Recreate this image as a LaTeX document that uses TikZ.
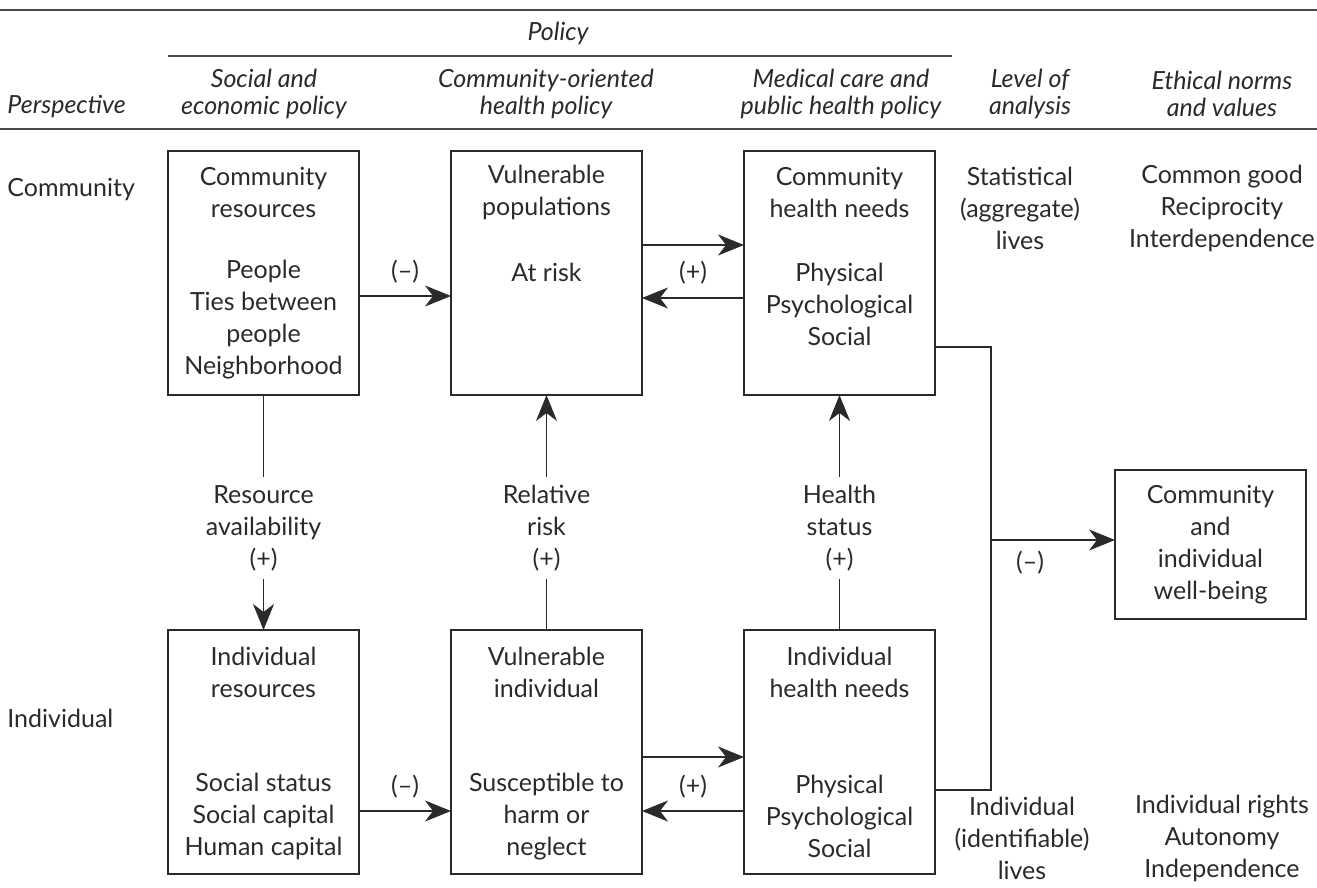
\documentclass[tikz,border=0pt]{standalone}
\usepackage{fontspec}
\setmainfont{Lato}
\usetikzlibrary{arrows.meta,calc}
\definecolor{ink}{HTML}{2A2A2A}
\tikzset{
  lbl/.style={align=center,inner sep=0pt,text=ink,font=\fontsize{12.5}{16}\selectfont},
  hdr/.style={lbl,font=\fontsize{12.5}{13.5}\selectfont\itshape},
  box/.style={draw=ink,line width=0.65pt,minimum width=95.5pt,minimum height=122pt,inner sep=0pt,outer sep=0pt},
  vlab/.style={lbl,inner ysep=4pt},
  conn/.style={draw=ink,line width=0.6pt},
  arr/.style={conn,-{Stealth[length=13pt,width=10.5pt,inset=4pt]}},
  rule/.style={draw=ink!85,line width=0.8pt}
}
\begin{document}
\begin{tikzpicture}[x=0.5pt,y=-0.5pt]
\useasboundingbox (0,0) rectangle (1317,888);
% header rules
\coordinate (tl) at (0,10); \coordinate (tr) at (1317,10);
\coordinate (bl) at (0,129); \coordinate (br) at (1317,129);
\coordinate (pl) at (168,56); \coordinate (pr) at (952,56);
\draw[rule] (tl) -- (tr);
\draw[rule] (bl) -- (br);
\draw[rule] (pl) -- (pr);
\node[hdr] (hpol) at (558,33) {Policy};
\node[hdr,anchor=west] (hper) at (7,107) {Perspective};
\node[hdr] (hsoc) at (264,93.5) {Social and\\economic policy};
\node[hdr] (hcom) at (546,93.5) {Community-oriented\\health policy};
\node[hdr] (hmed) at (841,93.5) {Medical care and\\public health policy};
\node[hdr] (hlev) at (1030,93.5) {Level of\\analysis};
\node[hdr] (heth) at (1222,93.5) {Ethical norms\\and values};
% row labels
\node[lbl,anchor=west] (rcom) at (7,190) {Community};
\node[lbl,anchor=west] (rind) at (7,718) {Individual};
% boxes
\node[box] (cr) at (263.5,273) {};
\node[box] (vp) at (546.5,273) {};
\node[box] (chn) at (839.5,273) {};
\node[box] (ir) at (263.5,752) {};
\node[box] (vi) at (546.5,752) {};
\node[box] (ihn) at (839.5,752) {};
\node[box,minimum height=74.5pt] (wb) at (1210.5,544.5) {};
% box texts
\node[lbl] (cr1) at (263.5,192.5) {Community\\resources};
\node[lbl] (cr2) at (263.5,320) {People\\Ties between\\people\\Neighborhood};
\node[lbl] (vp1) at (546.5,192.5) {Vulnerable\\populations};
\node[lbl] (vp2) at (546.5,272) {At risk};
\node[lbl] (chn1) at (839.5,192.5) {Community\\health needs};
\node[lbl] (chn2) at (839.5,304.5) {Physical\\Psychological\\Social};
\node[lbl] (ir1) at (263.5,672) {Individual\\resources};
\node[lbl] (ir2) at (263.5,816.5) {Social status\\Social capital\\Human capital};
\node[lbl] (vi1) at (546.5,672) {Vulnerable\\individual};
\node[lbl] (vi2) at (546.5,816.5) {Susceptible to\\harm or\\neglect};
\node[lbl] (ihn1) at (839.5,672) {Individual\\health needs};
\node[lbl] (ihn2) at (839.5,816.5) {Physical\\Psychological\\Social};
\node[lbl] (wbt) at (1210.5,544.5) {Community\\and\\individual\\well-being};
% right columns
\node[lbl] (st) at (1020,208.5) {Statistical\\(aggregate)\\lives};
\node[lbl] (cg) at (1222,208.5) {Common good\\Reciprocity\\Interdependence};
\node[lbl] (il) at (1022,838) {Individual\\(identifiable)\\lives};
\node[lbl] (ri) at (1222,838) {Individual rights\\Autonomy\\Independence};
% horizontal arrows, top row
\coordinate (yA) at (0,296);
\coordinate (yB) at (0,245);
\coordinate (yC) at (0,298);
\draw[arr] (cr.east |- yA) -- (vp.west |- yA);
\node[lbl] (m1) at (405,272) {(–)};
\draw[arr] (vp.east |- yB) -- (chn.west |- yB);
\draw[arr] (chn.west |- yC) -- (vp.east |- yC);
\node[lbl] (p1) at (693,273) {(+)};
% horizontal arrows, bottom row
\coordinate (yD) at (0,811);
\coordinate (yE) at (0,757);
\draw[arr] (ir.east |- yD) -- (vi.west |- yD);
\node[lbl] (m2) at (405,787) {(–)};
\draw[arr] (vi.east |- yE) -- (ihn.west |- yE);
\draw[arr] (ihn.west |- yD) -- (vi.east |- yD);
\node[lbl] (p2) at (693,787) {(+)};
% vertical links
\node[vlab] (ra) at (263.5,528) {Resource\\availability\\(+)};
\node[vlab] (rr) at (546.5,528) {Relative\\risk\\(+)};
\node[vlab] (hs) at (839.5,528) {Health\\status\\(+)};
\draw[conn] (cr.south) -- (ra.north);
\draw[arr] (ra.south) -- (ir.north);
\draw[conn] (vi.north) -- (rr.south);
\draw[arr] (rr.north) -- (vp.south);
\draw[conn] (ihn.north) -- (hs.south);
\draw[arr] (hs.north) -- (chn.south);
% merge to well-being
\coordinate (j1) at (991,347);
\coordinate (j2) at (991,790);
\coordinate (j3) at (991,540);
\draw[conn] (chn.east |- j1) -- (j1) -- (j2) -- (ihn.east |- j2);
\draw[arr] (j3) -- (j3 -| wb.west);
\node[lbl] (m3) at (1030,563) {(–)};
\end{tikzpicture}
\end{document}
